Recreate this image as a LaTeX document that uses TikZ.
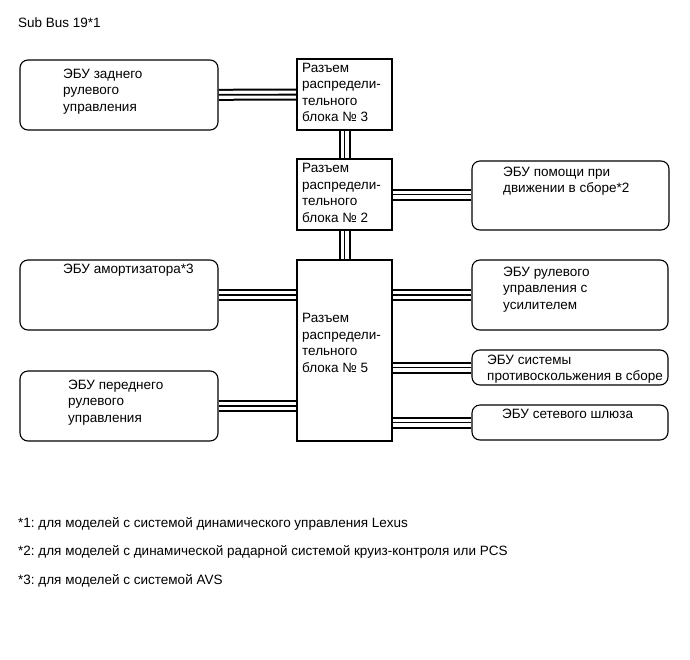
\documentclass[tikz,border=0pt]{standalone}
\usepackage{fontspec}
\setmainfont{Liberation Sans}
\frenchspacing
\usetikzlibrary{backgrounds}

\begin{document}
\begin{tikzpicture}[x=1pt, y=-1pt,
    ecu/.style={draw, line width=1.1pt, rounded corners=8pt, inner sep=0pt},
    jblock/.style={draw, line width=1.1pt, minimum width=95pt, inner sep=0pt},
    txt/.style={anchor=north west, inner sep=0pt, align=left,
                font=\fontsize{13.5}{16.5}\selectfont},
    bus/.style={line width=12pt, postaction={draw=white, line width=8pt},
                postaction={draw=black, line width=1.8pt}},
]
    \useasboundingbox (0,0) rectangle (690,659);

    \node[txt] (title) at (18, 17.5) {Sub Bus 19*1};

    % left side
    \node[ecu, minimum width=198pt, minimum height=70pt] (rearecu) at (119, 95) {};
    \node[txt] (rearecu-t) at (63, 68.5) {ЭБУ заднего\\рулевого\\управления};
    \node[ecu, minimum width=198pt, minimum height=70pt] (shock) at (119, 295) {};
    \node[txt] (shock-t) at (63, 264) {ЭБУ амортизатора*3};
    \node[ecu, minimum width=198pt, minimum height=70pt] (frontecu) at (119, 406) {};
    \node[txt] (frontecu-t) at (68, 379.5) {ЭБУ переднего\\рулевого\\управления};

    % junction blocks
    \node[jblock, minimum height=71pt] (jb3) at (344.5, 94.5) {};
    \node[txt] (jb3-t) at (302, 63) {Разъем\\распредели-\\тельного\\блока № 3};
    \node[jblock, minimum height=71pt] (jb2) at (344.5, 194.5) {};
    \node[txt] (jb2-t) at (302, 163.5) {Разъем\\распредели-\\тельного\\блока № 2};
    \node[jblock, minimum height=181pt] (jb5) at (344.5, 350.5) {};
    \node[txt] (jb5-t) at (302, 313.5) {Разъем\\распредели-\\тельного\\блока № 5};

    % right side
    \node[ecu, minimum width=197pt, minimum height=69pt] (assist) at (570.5, 195.5) {};
    \node[txt] (assist-t) at (503, 166.5) {ЭБУ помощи при\\движении в сборе*2};
    \node[ecu, minimum width=196pt, minimum height=70pt] (eps) at (570, 295) {};
    \node[txt] (eps-t) at (503, 266.5) {ЭБУ рулевого\\управления с\\усилителем};
    \node[ecu, minimum width=196pt, minimum height=35pt] (vsc) at (570, 367.5) {};
    \node[txt] (vsc-t) at (487, 354.5) {ЭБУ системы\\противоскольжения в сборе};
    \node[ecu, minimum width=196pt, minimum height=35pt] (gateway) at (570, 422.5) {};
    \node[txt] (gateway-t) at (502, 408.5) {ЭБУ сетевого шлюза};

    \begin{pgfonlayer}{background}
    \draw[bus] (rearecu) -- (jb3);
    \draw[bus] (jb3) -- (jb2);
    \draw[bus] (jb2) -- (jb5);
    \draw[bus] (jb2) -- (jb2 -| assist.west);
    \draw[bus] (shock) -- (shock -| jb5.west);
    \draw[bus] (frontecu) -- (frontecu -| jb5.west);
    \draw[bus] (eps -| jb5.east) -- (eps);
    \draw[bus] (vsc -| jb5.east) -- (vsc);
    \draw[bus] (gateway -| jb5.east) -- (gateway);
    \end{pgfonlayer}

    % footnotes
    \node[txt] (note1) at (18, 517) {*1: для моделей с системой динамического управления Lexus};
    \node[txt] (note2) at (18, 545) {*2: для моделей с динамической радарной системой круиз-контроля или PCS};
    \node[txt] (note3) at (18, 574) {*3: для моделей с системой AVS};
\end{tikzpicture}
\end{document}
